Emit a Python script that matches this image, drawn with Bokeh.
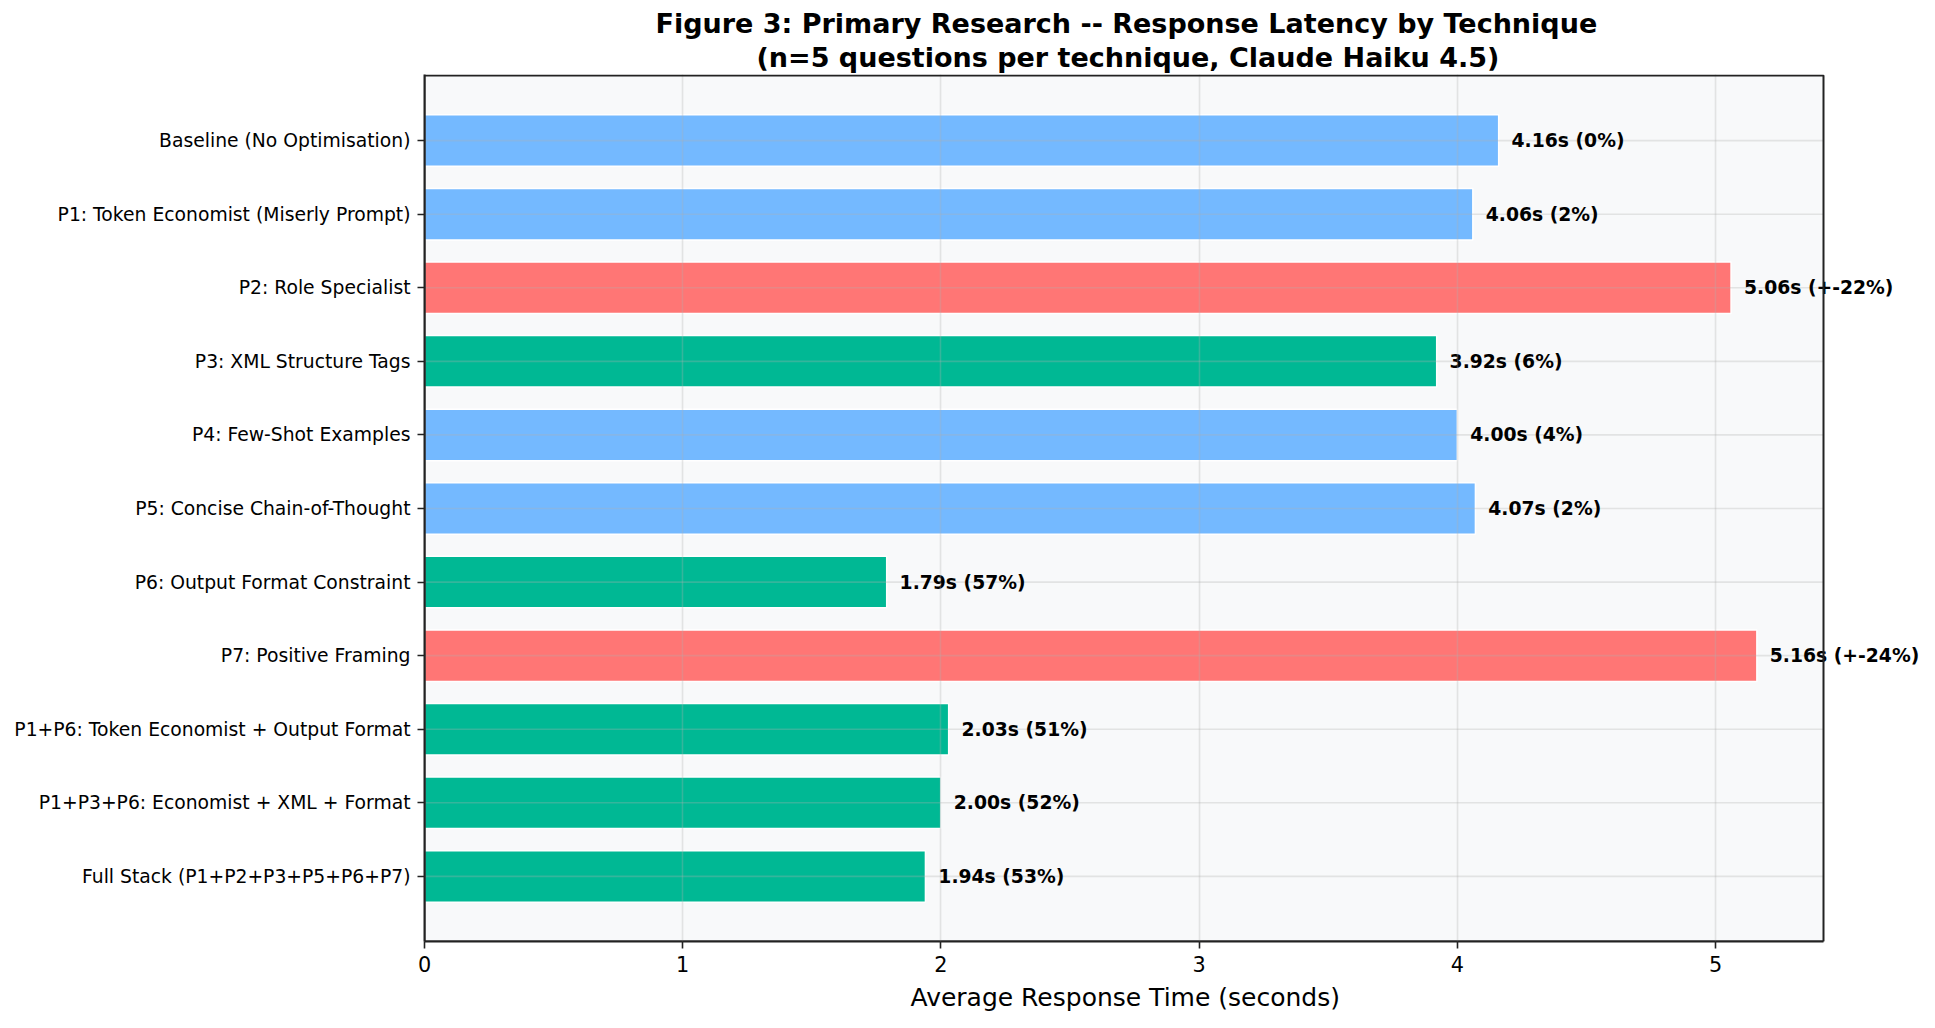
from bokeh.plotting import figure
from bokeh.models import ColumnDataSource, Range1d, FixedTicker, LabelSet, Title, BoxAnnotation
from bokeh.core.properties import value
from bokeh.embed import file_html
from bokeh.resources import INLINE

techniques = [
    "Baseline (No Optimisation)",
    "P1: Token Economist (Miserly Prompt)",
    "P2: Role Specialist",
    "P3: XML Structure Tags",
    "P4: Few-Shot Examples",
    "P5: Concise Chain-of-Thought",
    "P6: Output Format Constraint",
    "P7: Positive Framing",
    "P1+P6: Token Economist + Output Format",
    "P1+P3+P6: Economist + XML + Format",
    "Full Stack (P1+P2+P3+P5+P6+P7)",
]
latency_s = [4.16, 4.06, 5.06, 3.92, 4.00, 4.07, 1.79, 5.16, 2.03, 2.00, 1.94]
reduction_pct = [0, 2, -22, 6, 4, 2, 57, -24, 51, 52, 53]
x_ticks = [0, 1, 2, 3, 4, 5]

BLUE, RED, GREEN = "#74b9ff", "#ff7675", "#00b894"
FONT = "DejaVu Sans"


def colour_for(p):
    if p < 0:
        return RED
    if p > 5:
        return GREEN
    return BLUE


def label_for(v, p):
    if p < 0:
        return f"{v:.2f}s (+{p}%)"
    return f"{v:.2f}s ({p}%)"


n = len(techniques)
pos = list(range(n))
src = ColumnDataSource(dict(
    y=pos,
    v=latency_s,
    color=[colour_for(p) for p in reduction_pct],
    label=[label_for(v, p) for v, p in zip(latency_s, reduction_pct)],
    lx=[v + 0.05 for v in latency_s],
))

bar_h = 0.7
pad = bar_h / 2 + 0.05 * (n - 1 + bar_h)
xmax = max(latency_s) * 1.05

# layout (pixels)
LEFT = 424
BOX_W = 1399
FRAME_W = 1495
BOX_H = 866
TOP = 74
ppu_y = BOX_H / (n - 1 + 2 * pad)
extra_top = 1.0 / ppu_y

p = figure(
    frame_width=FRAME_W, frame_height=BOX_H + 1,
    x_range=Range1d(0, xmax * FRAME_W / BOX_W),
    y_range=Range1d(n - 1 + pad, -pad - extra_top),
    output_backend="svg", toolbar_location=None,
    min_border_left=LEFT, min_border_right=0,
    min_border_top=TOP, min_border_bottom=6,
)

# titles, left-aligned with offsets so that they sit centred over the plot box
p.add_layout(Title(text="(n=5 questions per technique, Claude Haiku 4.5)", align="left",
                   text_font=FONT, text_font_size="27px", text_font_style="bold",
                   text_color="black", standoff=3, offset=332), "above")
p.add_layout(Title(text="Figure 3: Primary Research -- Response Latency by Technique", align="left",
                   text_font=FONT, text_font_size="27px", text_font_style="bold",
                   text_color="black", standoff=0, offset=231), "above")

p.background_fill_color = "white"
p.border_fill_color = "white"
p.outline_line_color = None

# plot box background
p.add_layout(BoxAnnotation(left=0, right=xmax, top=-pad, bottom=n - 1 + pad,
                           fill_color="#f8f9fa", fill_alpha=1.0, line_color=None,
                           level="image"))

p.hbar(y="y", right="v", left=0, height=bar_h, source=src,
       fill_color="color", line_color="white", line_width=1.5)

# horizontal grid lines (limited to the plot box)
p.segment(x0=[0] * n, x1=[xmax] * n, y0=pos, y1=pos,
          line_color="#b0b0b0", line_alpha=0.3, line_width=1.6)

p.xgrid.ticker = FixedTicker(ticks=x_ticks)
p.xgrid.grid_line_color = "#b0b0b0"
p.xgrid.grid_line_alpha = 0.3
p.xgrid.grid_line_width = 1.6
p.xgrid.level = "overlay"
p.ygrid.grid_line_color = None

labels = LabelSet(x="lx", y="y", text="label", source=src,
                  text_font=value(FONT), text_font_size="18.75px", text_font_style="bold",
                  text_color="black", text_align="left", text_baseline="middle")
p.add_layout(labels)

# plot box border
p.add_layout(BoxAnnotation(left=0, right=xmax, top=-pad, bottom=n - 1 + pad,
                           fill_alpha=0, line_color="#222222", line_alpha=1.0, line_width=2,
                           level="overlay"))

# x axis
xa = p.xaxis[0]
xa.ticker = FixedTicker(ticks=x_ticks)
xa.bounds = (0, xmax)
xa.major_label_text_font = FONT
xa.major_label_text_font_size = "20.8px"
xa.major_label_text_color = "black"
xa.major_label_standoff = 7
xa.major_tick_out = 7
xa.major_tick_in = 0
xa.major_tick_line_color = "#222222"
xa.major_tick_line_width = 1.6
xa.minor_tick_line_color = None
xa.axis_line_color = "#222222"
xa.axis_line_width = 2

# x axis label, centred on the plot box
p.add_layout(Title(text="Average Response Time (seconds)", align="left",
                   text_font=FONT, text_font_size="25px", text_font_style="normal",
                   text_color="black", standoff=12, offset=486), "below")

# y axis
ya = p.yaxis[0]
ya.ticker = FixedTicker(ticks=pos)
ya.major_label_overrides = {i: t for i, t in zip(pos, techniques)}
ya.major_label_text_font = FONT
ya.major_label_text_font_size = "18.75px"
ya.major_label_text_color = "black"
ya.major_label_standoff = 7
ya.major_tick_out = 7
ya.major_tick_in = 0
ya.major_tick_line_color = "#222222"
ya.major_tick_line_width = 1.6
ya.minor_tick_line_color = None
ya.axis_line_color = "#222222"
ya.axis_line_width = 2

open("out.html", "w").write(file_html(p, INLINE))
